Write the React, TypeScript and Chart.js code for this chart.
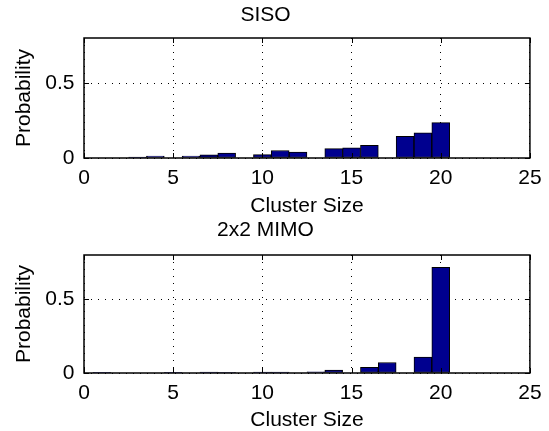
import React, { useEffect, useRef } from "react";
import { Chart, registerables } from "chart.js";

Chart.register(...registerables);

// ---- data ----
const clusterSizes = [1, 2, 3, 4, 5, 6, 7, 8, 9, 10, 11, 12, 13, 14, 15, 16, 17, 18, 19, 20];
const sisoProb = [0, 0, 0.006, 0.012, 0, 0.012, 0.021, 0.032, 0, 0.022, 0.05, 0.04, 0, 0.062, 0.068, 0.084, 0, 0.145, 0.167, 0.236];
const mimoProb = [0.002, 0, 0, 0, 0.002, 0, 0.006, 0.004, 0, 0.006, 0.006, 0, 0.008, 0.02, 0, 0.039, 0.071, 0, 0.108, 0.716];
const xTickStep = 5;
const yTickStep = 0.5;
const xMin = 0;
const xMax = 25;
const yMin = 0;
const yMax = 0.8;
const titles = ["SISO", "2x2 MIMO"];
const xLabel = "Cluster Size";
const yLabel = "Probability";

const FONT = "'Liberation Sans', Arial, Helvetica, sans-serif";
const FS = 21;

const boxPlugin = {
  id: "matlabBox",
  afterDatasetsDraw(chart: any) {
    const { ctx, chartArea, scales } = chart;
    const { left, right, top, bottom } = chartArea;
    ctx.save();
    ctx.strokeStyle = "#000";
    ctx.lineWidth = 1;
    ctx.setLineDash([]);
    ctx.beginPath();
    scales.x.ticks.forEach((t: any) => {
      const px = Math.round(scales.x.getPixelForValue(t.value)) + 0.5;
      ctx.moveTo(px, bottom);
      ctx.lineTo(px, bottom - 5);
      ctx.moveTo(px, top);
      ctx.lineTo(px, top + 5);
    });
    scales.y.ticks.forEach((t: any) => {
      const py = Math.round(scales.y.getPixelForValue(t.value)) + 0.5;
      ctx.moveTo(left, py);
      ctx.lineTo(left + 5, py);
      ctx.moveTo(right, py);
      ctx.lineTo(right - 5, py);
    });
    ctx.stroke();
    ctx.lineWidth = 1.5;
    ctx.strokeRect(left, top, right - left, bottom - top);
    ctx.restore();
  },
};

type PanelProps = {
  values: number[];
  title: string;
  width: number;
  height: number;
  titlePad: { top: number; bottom: number };
  xAxisHeight: number;
};

function Panel({ values, title, width, height, titlePad, xAxisHeight }: PanelProps) {
  const ref = useRef<HTMLCanvasElement | null>(null);
  useEffect(() => {
    if (!ref.current) return;
    const chart = new Chart(ref.current, {
      type: "bar",
      data: {
        datasets: [
          {
            data: clusterSizes.map((x, i) => ({ x, y: values[i] })),
            backgroundColor: "#00008F",
            borderColor: "#000000",
            borderWidth: 1,
            borderSkipped: false,
            barPercentage: 1,
            categoryPercentage: 1,
            grouped: false,
          } as any,
        ],
      },
      options: {
        animation: false,
        responsive: false,
        maintainAspectRatio: false,
        devicePixelRatio: 1,
        layout: { padding: { left: 0, right: 18, top: 0, bottom: 0 } },
        plugins: {
          legend: { display: false },
          tooltip: { enabled: false },
          title: {
            display: true,
            text: title,
            color: "#000",
            font: { family: FONT, size: FS, weight: "normal" },
            padding: titlePad,
          },
        },
        scales: {
          x: {
            type: "linear",
            min: xMin,
            max: xMax,
            offset: false,
            afterFit: (s: any) => {
              s.height = xAxisHeight;
            },
            ticks: {
              stepSize: xTickStep,
              color: "#000",
              font: { family: FONT, size: FS },
              padding: 7.4,
              maxRotation: 0,
              autoSkip: false,
            },
            grid: {
              color: "#000",
              lineWidth: 1,
              drawTicks: false,
              offset: false,
              borderDash: [1, 6],
            } as any,
            border: { display: false, dash: [1, 6] },
            title: {
              display: true,
              text: xLabel,
              color: "#000",
              font: { family: FONT, size: FS },
              padding: { top: 0, bottom: 0 },
            },
          },
          y: {
            type: "linear",
            min: yMin,
            max: yMax,
            afterFit: (s: any) => {
              s.width = 84;
            },
            ticks: {
              stepSize: yTickStep,
              includeBounds: false,
              color: "#000",
              font: { family: FONT, size: FS },
              padding: 9.5,
            },
            grid: {
              color: "#000",
              lineWidth: 1,
              drawTicks: false,
              borderDash: [1, 6],
            } as any,
            border: { display: false, dash: [1, 6] },
            title: {
              display: true,
              text: yLabel,
              color: "#000",
              font: { family: FONT, size: FS },
              padding: { top: 11.4, bottom: 0 },
            },
          },
        },
      },
      plugins: [boxPlugin],
    });
    return () => chart.destroy();
  }, [values, title]);
  return (
    <canvas
      ref={ref}
      width={width}
      height={height}
      style={{ width, height, display: "block" }}
    />
  );
}

export default function App() {
  return (
    <div
      style={{
        position: "fixed",
        left: 0,
        top: 0,
        width: 549,
        height: 431,
        overflow: "hidden",
        background: "#fff",
      }}
    >
      <div style={{ position: "absolute", left: 0, top: 0 }}>
        <Panel values={sisoProb} title={titles[0]} width={549} height={219} xAxisHeight={61} titlePad={{ top: 2.4, bottom: 10.4 }} />
      </div>
      <div style={{ position: "absolute", left: 0, top: 214 }}>
        <Panel values={mimoProb} title={titles[1]} width={549} height={219} xAxisHeight={60} titlePad={{ top: 3.4, bottom: 12.4 }} />
      </div>
    </div>
  );
}
